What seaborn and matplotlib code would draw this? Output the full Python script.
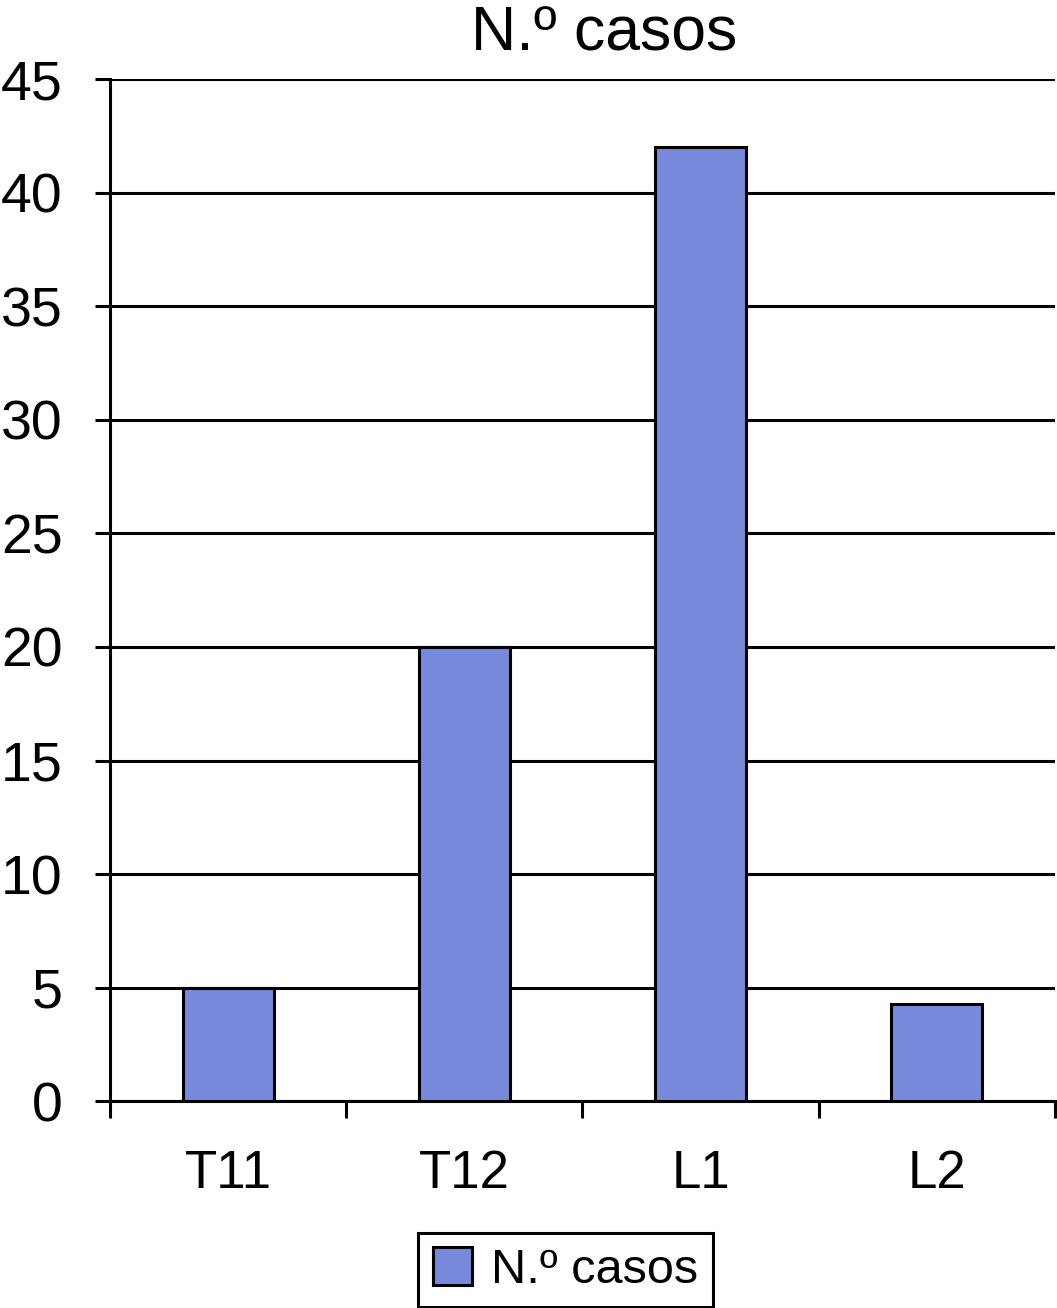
import matplotlib
matplotlib.use("Agg")
import matplotlib.pyplot as plt
import seaborn as sns
import pandas as pd

# data
niveles = ["T11", "T12", "L1", "L2"]
casos = [5, 20, 42, 4.3]
serie = "N.º casos"

sns.set_style("white")
plt.rcParams['font.family'] = ['Liberation Sans', 'DejaVu Sans']
plt.rcParams['text.color'] = 'black'
plt.rcParams['xtick.color'] = 'black'
plt.rcParams['ytick.color'] = 'black'

df = pd.DataFrame({"nivel": niveles, "casos": casos})

fig = plt.figure(figsize=(10.57, 13.08), dpi=100)
ax = fig.add_axes([0.104, 0.158, 0.894, 0.7816])

sns.barplot(data=df, x="nivel", y="casos", color="#7689DA", saturation=1,
            width=0.385, edgecolor="black", linewidth=2.2, label=serie, ax=ax, zorder=3)

ax.set_ylim(0, 45)
ax.set_xlim(-0.5, len(niveles) - 0.5)
ax.set_yticks(range(0, 46, 5))
ax.yaxis.grid(True, color="black", linewidth=2.2, zorder=0)
ax.set_axisbelow(True)
ax.set_xlabel("")
ax.set_ylabel("")

for s in ["top", "right"]:
    ax.spines[s].set_visible(False)
for s in ["left", "bottom"]:
    ax.spines[s].set_linewidth(2.2)
    ax.spines[s].set_color("black")

# tick marks between categories, none under labels
ax.set_xticks([i - 0.5 for i in range(len(niveles) + 1)], minor=True)
ax.tick_params(axis="x", which="minor", length=12, width=2.2, direction="out", bottom=True)
ax.tick_params(axis="x", which="major", length=0, labelsize=38, pad=34)
ax.tick_params(axis="y", length=11, width=2.2, direction="out", left=True, labelsize=40, pad=23)
if ax.get_legend():
    ax.get_legend().remove()

fig.text(0.572, 0.974, serie, ha="center", va="center", fontsize=45)

h, l = ax.get_legend_handles_labels()
leg = fig.legend(h, l, loc="center", bbox_to_anchor=(0.535, 0.029), fontsize=35,
                 frameon=True, fancybox=False, edgecolor="black", framealpha=1,
                 handlelength=0.8, handleheight=0.8, handletextpad=0.4, borderpad=0.3)
leg.get_frame().set_linewidth(2.2)

fig.savefig("out.png", dpi=100)
